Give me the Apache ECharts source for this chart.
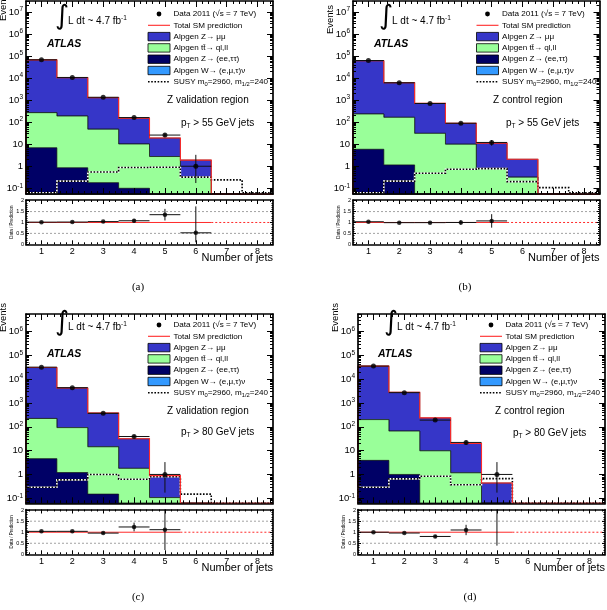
<!DOCTYPE html>
<html>
<head>
<meta charset="utf-8">
<script src="https://cdn.jsdelivr.net/npm/echarts@6/dist/echarts.min.js"></script>
<style>
html, body { margin: 0; padding: 0; background: #fff; }
#chart { width: 607px; height: 610px; }
</style>
</head>
<body>
<div id="chart"></div>
<script>
// jet multiplicity bins
var jetBins = [1, 2, 3, 4, 5, 6, 7, 8];
var xTickLabels = ['1', '2', '3', '4', '5', '6', '7', '8'];
var ratioTicks = [0, 0.5, 1, 1.5, 2];

// (a) Z validation region, pT > 55 GeV
var zmumuA = [66730, 10310, 1250, 140, 16.4, 1.58, 0, 0];
var ttbarA = [263, 189, 47.8, 10.1, 2.76, 0.32, 0, 0];
var zeeA   = [6.9, 0.85, 0.18, 0.1, 0, 0, 0, 0];
var wA     = [0.6, 0.2, 0.05, 0, 0, 0, 0, 0];
var susyA  = [0.063, 0.21, 0.55, 0.87, 0.9, 0.32, 0.24, 0.062];
var dataA  = [68000, 10700, 1350, 162, 26, 1, 0, 0];

// (b) Z control region, pT > 55 GeV
var zmumuB = [60765, 6034, 679, 79, 10.4, 1.75, 0, 0];
var ttbarB = [229, 165, 31, 10, 0.8, 0.32, 0, 0];
var zeeB   = [5.9, 1.15, 0.05, 0, 0, 0, 0, 0];
var wB     = [0.5, 0.2, 0.05, 0, 0, 0, 0, 0];
var susyB  = [0.063, 0.21, 0.48, 0.73, 0.78, 0.2, 0.107, 0.063];
var dataB  = [63000, 6150, 705, 89, 12, 0, 0, 0];

// (c) Z validation region, pT > 80 GeV
var zmumuC = [30277, 4108, 365.5, 29.7, 0.79, 0, 0, 0];
var ttbarC = [218, 91, 14.3, 1.8, 0.107, 0, 0, 0];
var zeeC   = [4.6, 1.2, 0.15, 0, 0, 0, 0, 0];
var wC     = [0.4, 0.1, 0.02, 0, 0, 0, 0, 0];
var susyC  = [0.29, 0.59, 1.0, 0.63, 0.8, 0.15, 0.05, 0.05];
var dataC  = [31700, 4370, 365, 39, 1, 0, 0, 0];

// (d) Z control region, pT > 80 GeV
var zmumuD = [34800, 2734, 225.2, 18.8, 0.44, 0, 0, 0];
var ttbarD = [196, 65, 9.8, 1.17, 0, 0, 0, 0];
var zeeD   = [3.9, 1.0, 0, 0, 0, 0, 0, 0];
var wD     = [0.3, 0.1, 0.02, 0, 0, 0, 0, 0];
var susyD  = [0.29, 0.65, 0.84, 0.37, 0.67, 0.05, 0.05, 0.05];
var dataD  = [35000, 2700, 190, 22, 1, 0, 0, 0];

var regionNames = ['Z validation region', 'Z control region', 'Z validation region', 'Z control region'];
var ptCuts = ['55', '55', '80', '80'];
var panelTags = ['(a)', '(b)', '(c)', '(d)'];

var samples = [
  { zmumu: zmumuA, ttbar: ttbarA, zee: zeeA, w: wA, susy: susyA, data: dataA },
  { zmumu: zmumuB, ttbar: ttbarB, zee: zeeB, w: wB, susy: susyB, data: dataB },
  { zmumu: zmumuC, ttbar: ttbarC, zee: zeeC, w: wC, susy: susyC, data: dataC },
  { zmumu: zmumuD, ttbar: ttbarD, zee: zeeD, w: wD, susy: susyD, data: dataD }
];

// page layout of the four panels (pixels)
var layouts = [
  { left: 26,  width: 247,   mainTop: 1,   mainH: 193,   ratioTop: 200,   ratioH: 44.3, yMin: -1.26, yMax: 7.5,
    eventsTop: -8,  intX: 68,  intY: 21,    atlasX: 47,  atlasY: 44,  legX: 148,   legY: 14,  regX: 167, regY: 100, ptX: 181, ptY: 123 },
  { left: 353, width: 246.5, mainTop: 1,   mainH: 193,   ratioTop: 200,   ratioH: 44.3, yMin: -1.26, yMax: 7.5,
    eventsTop: 5,   intX: 392, intY: 21,    atlasX: 374, atlasY: 44,  legX: 476.5, legY: 14,  regX: 493, regY: 100, ptX: 506, ptY: 123 },
  { left: 26,  width: 247,   mainTop: 314, mainH: 189.3, ratioTop: 509.5, ratioH: 44.8, yMin: -1.21, yMax: 6.73,
    eventsTop: 303, intX: 68,  intY: 327.3, atlasX: 47,  atlasY: 354, legX: 148,   legY: 325, regX: 167, regY: 411, ptX: 181, ptY: 432.7 },
  { left: 358, width: 247,   mainTop: 314, mainH: 189.3, ratioTop: 509.5, ratioH: 44.8, yMin: -1.21, yMax: 6.73,
    eventsTop: 303, intX: 397, intY: 327.3, atlasX: 378, atlasY: 354, legX: 480,   legY: 325, regX: 495, regY: 411, ptX: 513, ptY: 433 }
];

var FONT = '"Liberation Sans", Arial, Helvetica, sans-serif';
var COL_ZMUMU = '#3636c8', COL_TTBAR = '#99ff99', COL_ZEE = '#000066', COL_W = '#3399ff', COL_RED = '#ff2a2a';
var RATIO_MAX = 2.03;

var chart = echarts.init(document.getElementById('chart'));

// tick positions
var xMajor = jetBins.slice();
var xMinor = [];
for (var i = 3; i <= 42; i++) { if (i % 5 !== 0) xMinor.push(i / 5); }
var ratioMinor = [];
for (var j = 1; j < 21; j++) { if (j % 5 !== 0) ratioMinor.push(j / 10); }

function logMajor(lo, hi) {
  var a = [];
  for (var k = Math.ceil(lo); k <= Math.floor(hi); k++) a.push(k);
  return a;
}
function logMinor(lo, hi) {
  var a = [];
  for (var k = -3; k < 9; k++) {
    for (var m = 2; m < 10; m++) {
      var v = k + Math.log10(m);
      if (v > lo && v < hi) a.push(v);
    }
  }
  return a;
}

function powLabel(v) {
  var n = Math.round(v);
  if (n === 0) return '{b|1}';
  if (n === 1) return '{b|10}';
  return '{b|10}{s|' + n + '}';
}

var grids = [], xAxes = [], yAxes = [], series = [], graphics = [];

function axis(g, pos, min, max, ticks, len, frame, label) {
  return {
    type: 'value', gridIndex: g, position: pos, min: min, max: max,
    axisLine: { show: frame, onZero: false, lineStyle: { color: '#000', width: 1.7 } },
    axisTick: { show: true, inside: true, length: len, customValues: ticks, lineStyle: { color: '#000', width: 1 } },
    axisLabel: label || { show: false },
    splitLine: { show: false },
    silent: true,
    z: 10
  };
}

function addGrid(box, yMin, yMax, yMaj, yMin2, xLen, yLen, yLabel, xLabel) {
  var g = grids.length;
  grids.push({ left: box.left, top: box.top, width: box.width, height: box.height, containLabel: false, outerBoundsMode: 'none' });
  var idx = { x: xAxes.length, y: yAxes.length };
  xAxes.push(axis(g, 'bottom', 0.5, 8.5, xMajor, xLen, true, xLabel));
  xAxes.push(axis(g, 'bottom', 0.5, 8.5, xMinor, xLen / 2, false));
  xAxes.push(axis(g, 'top', 0.5, 8.5, xMajor, xLen, true));
  xAxes.push(axis(g, 'top', 0.5, 8.5, xMinor, xLen / 2, false));
  yAxes.push(axis(g, 'left', yMin, yMax, yMaj, yLen, true, yLabel));
  yAxes.push(axis(g, 'left', yMin, yMax, yMin2, yLen / 2, false));
  yAxes.push(axis(g, 'right', yMin, yMax, yMaj, yLen, true));
  yAxes.push(axis(g, 'right', yMin, yMax, yMin2, yLen / 2, false));
  return idx;
}

function lg(v, floor) {
  return v > 0 ? Math.max(Math.log10(v), floor) : floor;
}

// step outline of a histogram in log space
function stepPoints(api, vals, floor) {
  var pts = [api.coord([0.5, floor])];
  for (var i = 0; i < jetBins.length; i++) {
    var t = lg(vals[i], floor);
    pts.push(api.coord([jetBins[i] - 0.5, t]));
    pts.push(api.coord([jetBins[i] + 0.5, t]));
  }
  pts.push(api.coord([8.5, floor]));
  return pts;
}

function poissonBand(n) {
  if (n === 1) return [0.173, 3.30];
  return [n - Math.sqrt(n), n + Math.sqrt(n)];
}

function seg(a, b, style) {
  return { type: 'line', shape: { x1: a[0], y1: a[1], x2: b[0], y2: b[1] }, style: style };
}

samples.forEach(function (s, p) {
  var L = layouts[p];
  var yMaj = logMajor(L.yMin, L.yMax);
  var main = addGrid({ left: L.left, top: L.mainTop, width: L.width, height: L.mainH },
    L.yMin, L.yMax, yMaj, logMinor(L.yMin, L.yMax), 6, 6,
    {
      show: true, customValues: yMaj, formatter: powLabel, margin: 3, color: '#000',
      rich: {
        b: { fontSize: 9.5, lineHeight: 12, fontFamily: FONT, color: '#000' },
        s: { fontSize: 6.5, lineHeight: 6, verticalAlign: 'top', fontFamily: FONT, color: '#000' }
      }
    });
  var ratio = addGrid({ left: L.left, top: L.ratioTop, width: L.width, height: L.ratioH },
    0, RATIO_MAX, ratioTicks, ratioMinor, 4, 3,
    { show: true, customValues: ratioTicks, margin: 2, fontSize: 5.5, fontFamily: FONT, color: '#000',
      formatter: function (v) { return String(v); } },
    { show: true, customValues: xMajor, margin: 3, fontSize: 9, fontFamily: FONT, color: '#000',
      formatter: function (v) { return xTickLabels[jetBins.indexOf(v)]; } });

  // stacked components (cumulative)
  var c1 = s.zee.slice();
  var c2 = c1.map(function (v, i) { return v + s.ttbar[i]; });
  var c3 = c2.map(function (v, i) { return v + s.w[i]; });
  var total = c3.map(function (v, i) { return v + s.zmumu[i]; });

  [[total, COL_ZMUMU], [c3, COL_W], [c2, COL_TTBAR], [c1, COL_ZEE]].forEach(function (layer, k) {
    series.push({
      type: 'custom', xAxisIndex: main.x, yAxisIndex: main.y, z: 2 + k * 0.1, silent: true,
      data: [[0.5, L.yMin]],
      renderItem: function (params, api) {
        return { type: 'polygon', shape: { points: stepPoints(api, layer[0], L.yMin) },
          style: { fill: layer[1], stroke: '#111', lineWidth: 0.7 } };
      }
    });
  });

  // SUSY benchmark (white under black dots)
  series.push({
    type: 'custom', xAxisIndex: main.x, yAxisIndex: main.y, z: 3, silent: true,
    data: [[0.5, L.yMin]],
    renderItem: function (params, api) {
      var pts = stepPoints(api, s.susy, L.yMin);
      return { type: 'group', children: [
        { type: 'polyline', shape: { points: pts }, style: { stroke: '#fff', lineWidth: 1.6, fill: null } },
        { type: 'polyline', shape: { points: pts }, style: { stroke: '#000', lineWidth: 1.6, lineDash: [1.6, 1.6], fill: null } }
      ] };
    }
  });

  // total SM prediction
  series.push({
    type: 'custom', xAxisIndex: main.x, yAxisIndex: main.y, z: 4, silent: true,
    data: [[0.5, L.yMin]],
    renderItem: function (params, api) {
      return { type: 'polyline', shape: { points: stepPoints(api, total, L.yMin) },
        style: { stroke: COL_RED, lineWidth: 1.1, fill: null } };
    }
  });

  // data error bars
  var errRows = [], pointRows = [], ratioRows = [], ratioPts = [];
  jetBins.forEach(function (b, i) {
    var n = s.data[i];
    if (n <= 0) return;
    var band = poissonBand(n);
    errRows.push([b, lg(n, L.yMin), lg(band[0], L.yMin), lg(band[1], L.yMin)]);
    pointRows.push([b, Math.log10(n)]);
    if (total[i] > 0) {
      var r = n / total[i];
      ratioRows.push([b, r, band[0] / total[i], band[1] / total[i]]);
      if (r <= RATIO_MAX) ratioPts.push([b, r]);
    }
  });

  var errStyle = { stroke: '#111', lineWidth: 1 };
  series.push({
    type: 'custom', xAxisIndex: main.x, yAxisIndex: main.y, z: 5, silent: true,
    data: errRows,
    renderItem: function (params, api) {
      var x = api.value(0), y = api.value(1);
      return { type: 'group', children: [
        seg(api.coord([x - 0.5, y]), api.coord([x + 0.5, y]), errStyle),
        seg(api.coord([x, api.value(2)]), api.coord([x, api.value(3)]), errStyle)
      ] };
    }
  });
  series.push({
    type: 'scatter', xAxisIndex: main.x, yAxisIndex: main.y, z: 6, silent: true,
    symbol: 'circle', symbolSize: 5, itemStyle: { color: '#000' }, data: pointRows
  });

  // ratio reference lines
  var lastData = 0.5;
  jetBins.forEach(function (b, i) { if (s.data[i] > 0) lastData = b + 0.5; });
  series.push({
    type: 'custom', xAxisIndex: ratio.x, yAxisIndex: ratio.y, z: 3, silent: true,
    data: [[0.5, 1]],
    renderItem: function (params, api) {
      var grey = { stroke: '#8a8a8a', lineWidth: 0.8, lineDash: [2, 2] };
      return { type: 'group', children: [
        seg(api.coord([0.5, 0.5]), api.coord([8.5, 0.5]), grey),
        seg(api.coord([0.5, 1.5]), api.coord([8.5, 1.5]), grey),
        seg(api.coord([0.5, 1]), api.coord([lastData, 1]), { stroke: COL_RED, lineWidth: 1 }),
        seg(api.coord([lastData, 1]), api.coord([8.5, 1]), { stroke: COL_RED, lineWidth: 1, lineDash: [2, 2] })
      ] };
    }
  });
  series.push({
    type: 'custom', xAxisIndex: ratio.x, yAxisIndex: ratio.y, z: 5, silent: true,
    data: ratioRows,
    renderItem: function (params, api) {
      var x = api.value(0), r = api.value(1);
      var lo = Math.max(api.value(2), 0), hi = Math.min(api.value(3), RATIO_MAX);
      var kids = [seg(api.coord([x, lo]), api.coord([x, hi]), errStyle)];
      if (r <= RATIO_MAX) kids.push(seg(api.coord([x - 0.5, r]), api.coord([x + 0.5, r]), errStyle));
      return { type: 'group', children: kids };
    }
  });
  series.push({
    type: 'scatter', xAxisIndex: ratio.x, yAxisIndex: ratio.y, z: 6, silent: true,
    symbol: 'circle', symbolSize: 4.5, itemStyle: { color: '#000' }, data: ratioPts
  });

  // texts and legend
  var right = L.left + L.width;
  var below = L.ratioTop + L.ratioH;
  graphics.push({ type: 'text', x: L.left - 23, y: L.eventsTop, rotation: Math.PI / 2,
    style: { text: 'Events', fontSize: 9.5, fontFamily: FONT, fill: '#000', align: 'right', verticalAlign: 'middle' } });
  graphics.push({ type: 'text', x: L.intX - 6, y: L.intY - 4,
    style: { text: '\u222B', fontSize: 27, fontFamily: '"DejaVu Sans", sans-serif', fill: '#000', align: 'center', verticalAlign: 'middle' } });
  graphics.push({ type: 'text', x: L.intX, y: L.intY,
    style: { text: '{n|L dt ~ 4.7 fb}{s|-1}', verticalAlign: 'middle',
      rich: { n: { fontSize: 10, lineHeight: 13, fontFamily: FONT, fill: '#000' },
              s: { fontSize: 6.5, lineHeight: 6, verticalAlign: 'top', fontFamily: FONT, fill: '#000' } } } });
  graphics.push({ type: 'text', x: L.atlasX, y: L.atlasY,
    style: { text: 'ATLAS', fontSize: 10.5, fontWeight: 'bold', fontStyle: 'italic', fontFamily: FONT, fill: '#000', verticalAlign: 'middle' } });

  var legRich = {
    n: { fontSize: 8.1, lineHeight: 11, fontFamily: FONT, fill: '#000' },
    u: { fontSize: 5.8, lineHeight: 5, verticalAlign: 'bottom', fontFamily: FONT, fill: '#000' }
  };
  var legTexts = [
    '{n|Data 2011 (\u221As = 7 TeV)}',
    '{n|Total SM prediction}',
    '{n|Alpgen Z\u2192 \u03BC\u03BC}',
    '{n|Alpgen t\u0074\u0304\u2192 ql,ll}',
    '{n|Alpgen Z\u2192 (ee,\u03C4\u03C4)}',
    '{n|Alpgen W\u2192 (e,\u03BC,\u03C4)\u03BD}',
    '{n|SUSY m}{u|0}{n|=2960, m}{u|1/2}{n|=240}'
  ];
  legTexts.forEach(function (t, i) {
    var y = L.legY + 11.3 * i;
    var x0 = L.legX, x1 = L.legX + 22;
    if (i === 0) {
      graphics.push({ type: 'circle', shape: { cx: (x0 + x1) / 2, cy: y, r: 2.4 }, style: { fill: '#000' } });
    } else if (i === 1) {
      graphics.push({ type: 'line', shape: { x1: x0, y1: y, x2: x1, y2: y }, style: { stroke: COL_RED, lineWidth: 1.1 } });
    } else if (i === 6) {
      graphics.push({ type: 'line', shape: { x1: x0, y1: y, x2: x1, y2: y }, style: { stroke: '#000', lineWidth: 1.6, lineDash: [1.6, 1.6] } });
    } else {
      var fill = [COL_ZMUMU, COL_TTBAR, COL_ZEE, COL_W][i - 2];
      graphics.push({ type: 'rect', shape: { x: x0, y: y - 4.2, width: 22, height: 8.4 }, style: { fill: fill, stroke: '#000', lineWidth: 0.8 } });
    }
    graphics.push({ type: 'text', x: x1 + 3.5, y: y, style: { text: t, verticalAlign: 'middle', rich: legRich } });
  });

  graphics.push({ type: 'text', x: L.regX, y: L.regY,
    style: { text: regionNames[p], fontSize: 10, fontFamily: FONT, fill: '#000', verticalAlign: 'middle' } });
  graphics.push({ type: 'text', x: L.ptX, y: L.ptY,
    style: { text: '{n|p}{u|T}{n| > ' + ptCuts[p] + ' GeV jets}', verticalAlign: 'middle',
      rich: { n: { fontSize: 10, lineHeight: 13, fontFamily: FONT, fill: '#000' },
              u: { fontSize: 6.5, lineHeight: 6, verticalAlign: 'bottom', fontFamily: FONT, fill: '#000' } } } });

  graphics.push({ type: 'text', x: L.left - 14, y: L.ratioTop + L.ratioH / 2, rotation: Math.PI / 2,
    style: { text: 'Data / Prediction', fontSize: 4.5, fontFamily: FONT, fill: '#000', align: 'center', verticalAlign: 'middle' } });
  graphics.push({ type: 'text', x: right, y: below + 14,
    style: { text: 'Number of jets', fontSize: 11, fontFamily: FONT, fill: '#000', align: 'right', verticalAlign: 'middle' } });
  graphics.push({ type: 'text', x: L.left + 112, y: below + 42.7,
    style: { text: panelTags[p], fontSize: 11, fontFamily: '"Liberation Serif", "DejaVu Serif", serif', fill: '#000', align: 'center', verticalAlign: 'middle' } });
});

chart.setOption({
  animation: false,
  backgroundColor: '#fff',
  grid: grids,
  xAxis: xAxes,
  yAxis: yAxes,
  series: series,
  graphic: { elements: graphics }
});
</script>
</body>
</html>
